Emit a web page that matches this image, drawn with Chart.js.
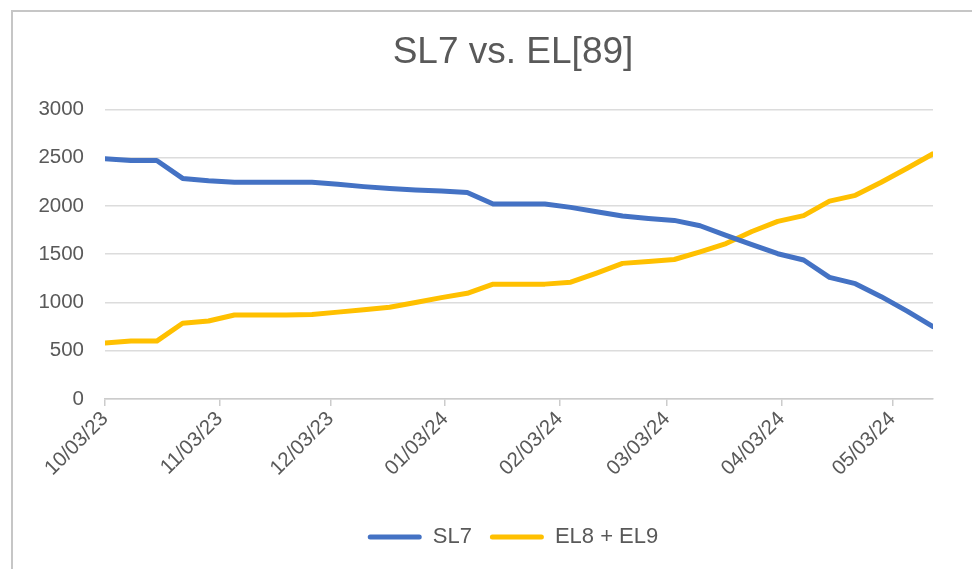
<!DOCTYPE html>
<html>
<head>
<meta charset="utf-8">
<script src="https://cdn.jsdelivr.net/npm/chart.js@4.4.1/dist/chart.umd.min.js"></script>
<style>
  html, body { margin: 0; padding: 0; background: #ffffff; overflow: hidden; }
  body { width: 972px; height: 569px; position: relative; }
  #frame { position: absolute; left: 11px; top: 10px; width: 1000px; height: 600px;
           border-left: 2px solid #c6c6c6; border-top: 2px solid #c6c6c6; }
  #wrap { position: absolute; left: 13px; top: 12px; width: 1000px; height: 557px; }
</style>
</head>
<body>
<div id="frame"></div>
<div id="wrap"><canvas id="c" width="1000" height="557"></canvas></div>
<script>
// ---- data ----
const dates = [
  '10/03/23','10/10/23','10/17/23','10/24/23','10/31/23','11/07/23','11/14/23','11/21/23','11/28/23',
  '12/05/23','12/12/23','12/19/23','12/26/23','01/02/24','01/09/24','01/16/24','01/23/24','01/30/24',
  '02/06/24','02/13/24','02/20/24','02/27/24','03/05/24','03/12/24','03/19/24','03/26/24','04/02/24',
  '04/09/24','04/16/24','04/23/24','04/30/24','05/07/24','05/14/24'
];
const sl7 = [
  2490, 2470, 2470, 2285, 2260, 2245, 2245, 2245, 2245,
  2225, 2200, 2180, 2165, 2155, 2140, 2020, 2020, 2020,
  1985, 1940, 1895, 1870, 1850, 1795, 1695, 1600, 1505,
  1440, 1260, 1195, 1060, 910, 750
];
const el89 = [
  580, 600, 600, 785, 808, 870, 870, 870, 875,
  900, 925, 950, 1000, 1050, 1095, 1190, 1190, 1190,
  1210, 1305, 1405, 1425, 1445, 1525, 1610, 1735, 1840,
  1900, 2050, 2110, 2245, 2390, 2540
];
const tickLabels = ['10/03/23','11/03/23','12/03/23','01/03/24','02/03/24','03/03/24','04/03/24','05/03/24'];
const seriesNames = ['SL7', 'EL8 + EL9'];
const yTicks = [0, 500, 1000, 1500, 2000, 2500, 3000];

// ---- helpers (derived from the data above) ----
function parseDate(s) {
  const [m, d, y] = s.split('/').map(Number);
  return new Date(2000 + y, m - 1, d);
}
const d0 = parseDate(dates[0]);
const dayOf = s => Math.round((parseDate(s) - d0) / 86400000);
const xs = dates.map(dayOf);
const tickPos = tickLabels.map(dayOf);

const BLUE = '#4472C4';
const GOLD = '#FFC000';
const TEXT = '#595959';
Chart.defaults.font.family = '"Liberation Sans", Arial, Helvetica, sans-serif';

new Chart(document.getElementById('c'), {
  type: 'line',
  data: {
    datasets: [
      { label: seriesNames[0], data: xs.map((x, i) => ({ x, y: sl7[i] })),
        borderColor: BLUE, backgroundColor: BLUE, borderWidth: 5,
        pointRadius: 0, tension: 0, borderJoinStyle: 'round', borderCapStyle: 'round' },
      { label: seriesNames[1], data: xs.map((x, i) => ({ x, y: el89[i] })),
        borderColor: GOLD, backgroundColor: GOLD, borderWidth: 5,
        pointRadius: 0, tension: 0, borderJoinStyle: 'round', borderCapStyle: 'round' }
    ]
  },
  options: {
    responsive: false,
    animation: false,
    events: [],
    layout: { padding: { left: 0, right: 0, top: 0, bottom: 11 } },
    plugins: {
      title: {
        display: true, text: 'SL7 vs. EL[89]', color: TEXT,
        font: { size: 37, weight: 'normal' },
        padding: { top: 19, bottom: 34 }
      },
      legend: {
        position: 'bottom',
        labels: {
          color: TEXT, font: { size: 22 }, boxWidth: 54, boxHeight: 5,
          useBorderRadius: true, borderRadius: 2.5, padding: 18,
          generateLabels(chart) {
            const items = Chart.defaults.plugins.legend.labels.generateLabels(chart);
            items.forEach(it => { it.lineWidth = 0; it.fillStyle = it.strokeStyle; });
            return items;
          }
        }
      },
      tooltip: { enabled: false }
    },
    scales: {
      x: {
        type: 'linear',
        min: xs[0], max: xs[xs.length - 1],
        afterBuildTicks(s) { s.ticks = tickPos.map(v => ({ value: v })); },
        afterFit(s) { s.height = 109; },
        ticks: {
          autoSkip: false, maxRotation: 45, minRotation: 45, padding: 1,
          color: TEXT, font: { size: 20.5 },
          callback: (v, i) => tickLabels[i]
        },
        grid: { display: true, drawOnChartArea: false, drawTicks: true, tickLength: 7, color: '#cccccc', lineWidth: 1.5 },
        border: { display: true, color: '#cccccc', width: 1.5 }
      },
      y: {
        min: 0, max: 3000,
        afterBuildTicks(s) { s.ticks = yTicks.map(v => ({ value: v })); },
        afterFit(s) { s.width = 92; },
        ticks: { color: TEXT, font: { size: 20.5 }, padding: 21, callback: v => String(v) },
        grid: { color: '#dcdcdc', lineWidth: 1.5, drawTicks: false },
        border: { display: false }
      },
      yRight: {
        position: 'right', display: true, min: 0, max: 1,
        afterFit(s) { s.width = 80; },
        ticks: { display: false },
        grid: { display: false, drawTicks: false },
        border: { display: false }
      }
    }
  }
});
</script>
</body>
</html>
